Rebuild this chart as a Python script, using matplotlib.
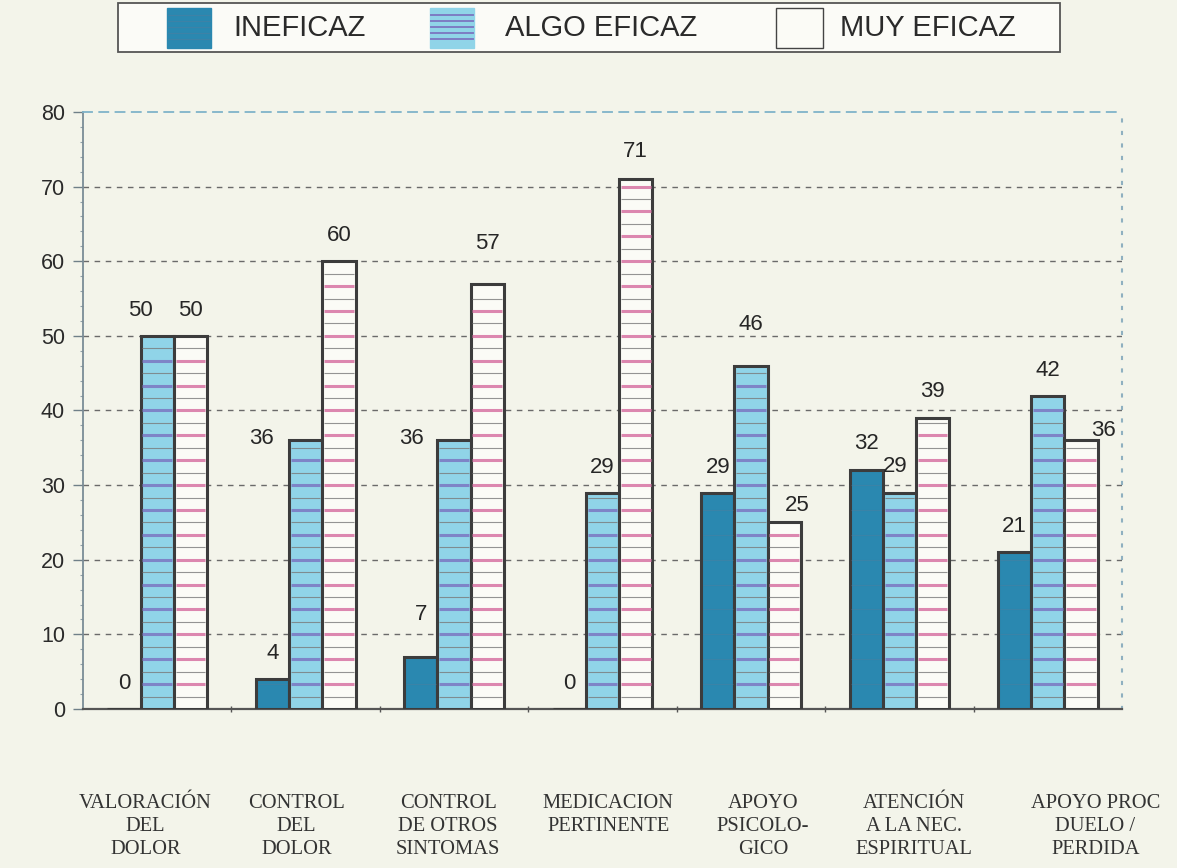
import matplotlib.pyplot as plt
import numpy as np
from matplotlib import transforms
from matplotlib.patches import Rectangle

# datos del grafico
categories = ['VALORACIÓN\nDEL\nDOLOR', 'CONTROL\nDEL\nDOLOR', 'CONTROL\nDE OTROS\nSINTOMAS',
              'MEDICACION\nPERTINENTE', 'APOYO\nPSICOLO-\nGICO', 'ATENCIÓN\nA LA NEC.\nESPIRITUAL',
              'APOYO PROC\nDUELO /\nPERDIDA']
ineficaz = [0, 4, 7, 0, 29, 32, 21]
algo_eficaz = [50, 36, 36, 29, 46, 29, 42]
muy_eficaz = [50, 60, 57, 71, 25, 39, 36]
series_names = ['INEFICAZ', 'ALGO EFICAZ', 'MUY EFICAZ']
yticks = [0, 10, 20, 30, 40, 50, 60, 70, 80]

# posicion de las etiquetas de valor (desplazamiento respecto a la barra)
label_dx = [[0, 0, 0, 0, 0, 0, 0],
            [-0.11, -0.30, -0.29, 0, 0, -0.03, 0],
            [0, 0, 0, 0, 0.09, 0, 0.15]]
label_dy = [[3.4, 3.5, 5.6, 3.4, 3.3, 3.6, 3.4],
            [3.4, 0.2, 0.2, 3.3, 5.5, 3.5, 3.4],
            [3.4, 3.4, 5.4, 3.7, 2.2, 3.6, 1.3]]
cat_dx = [-0.08, -0.06, -0.04, 0.04, 0.08, 0.10, 0.32]

bg_color = '#f3f4ea'
fill_colors = ['#2a88b0', '#90d4e8', '#fbfbf6']
stripe_colors = ['#4a7fa0', '#7d7cc4', '#d97aa8']
edge_color = '#3c3c3c'
sans = ['Liberation Sans Narrow', 'Liberation Sans', 'DejaVu Sans']

fig = plt.figure(figsize=(11.77, 8.68), dpi=100, facecolor=bg_color)

ax = fig.add_axes([0.0705, 0.1832, 0.8828, 0.6878], zorder=1)
ax.set_facecolor('none')

x = np.arange(len(categories))
width = 0.224
series = [ineficaz, algo_eficaz, muy_eficaz]
offsets = [-width, 0, width]
levels = np.arange(10 / 3, 80, 10 / 3)

for s, vals in enumerate(series):
    xs = x + offsets[s]
    ax.bar(xs, vals, width, color=fill_colors[s], edgecolor=edge_color, linewidth=2.2,
           zorder=3, label=series_names[s])
    # rayas horizontales del relleno
    for xi, v in zip(xs, vals):
        x0, x1 = xi - width / 2 + 0.012, xi + width / 2 - 0.012
        lv = levels[levels < v - 0.6]
        mid = levels - 5 / 3
        mid = mid[mid < v - 0.6]
        if s == 0:
            ax.hlines(lv, x0, x1, color=stripe_colors[s], lw=0.8, alpha=0.5, zorder=4)
            continue
        if len(lv):
            ax.hlines(lv, x0, x1, color=stripe_colors[s], lw=2.2, alpha=0.9, zorder=4)
        if len(mid):
            ax.hlines(mid, x0, x1, color='#7a7a7a', lw=0.8, alpha=0.8, zorder=4)
    for i, (xi, v) in enumerate(zip(xs, vals)):
        ax.text(xi + label_dx[s][i], v + label_dy[s][i], str(v), ha='center', va='center',
                fontsize=16, color='#262626', family=['Liberation Sans', 'DejaVu Sans'], zorder=5)

ax.set_xlim(-0.5, len(categories) - 0.5)
ax.set_ylim(0, 80)
ax.set_yticks(yticks)
ax.set_yticklabels([str(t) for t in yticks], fontsize=15.5, color='#2a2a2a',
                   family=['Liberation Sans', 'DejaVu Sans'])
ax.set_yticks(np.arange(0, 81, 2), minor=True)
ax.tick_params(axis='y', which='major', length=7, width=1, color='#6f7f88', pad=6)
ax.tick_params(axis='y', which='minor', length=2, width=0.8, color='#8fa0a8')

ax.set_xticks([])
ax.set_xticks(np.arange(0.5, len(categories) - 0.5, 1), minor=True)
ax.tick_params(axis='x', which='minor', length=5, width=1, color='#555555', direction='inout')

for t in yticks[1:-1]:
    ax.axhline(t, color='#6a6a6a', lw=1, dashes=(4, 4), zorder=1)

ax.spines['top'].set_color('#7fb3c9')
ax.spines['top'].set_linestyle((0, (5, 4)))
ax.spines['top'].set_linewidth(1.3)
ax.spines['right'].set_color('#8fb0c0')
ax.spines['right'].set_linestyle((0, (1, 5)))
ax.spines['right'].set_linewidth(1.5)
ax.spines['left'].set_color('#7a8c96')
ax.spines['left'].set_linewidth(1.3)
ax.spines['bottom'].set_color('#555555')
ax.spines['bottom'].set_linewidth(1.6)

trans = transforms.blended_transform_factory(ax.transData, ax.transAxes)
for i, cat in enumerate(categories):
    ax.text(i + cat_dx[i], -0.142, cat, transform=trans, ha='center', va='top',
            fontsize=14.8, color='#333333', family=['Liberation Serif', 'DejaVu Serif'],
            linespacing=1.3, multialignment='center')

# leyenda dibujada a mano en coordenadas de pixel
lg = fig.add_axes([0, 0, 1, 1], zorder=2)
lg.set_xlim(0, 1177)
lg.set_ylim(868, 0)
lg.axis('off')
lg.add_patch(Rectangle((118, 3), 942, 49, facecolor='#fbfbf7', edgecolor='#555555', lw=1.3))
swatch_x = [167, 430, 776]
text_x = [233, 505, 840]
for s in range(3):
    lg.add_patch(Rectangle((swatch_x[s], 8), 44 if s < 2 else 47, 40, facecolor=fill_colors[s],
                           edgecolor='#444444' if s == 2 else fill_colors[s], lw=1))
    if s < 2:
        for yy in [15, 21, 27, 33, 39]:
            lg.plot([swatch_x[s] + 1, swatch_x[s] + 43], [yy, yy], color=stripe_colors[s],
                    lw=1.4 if s == 1 else 0.8, alpha=1 if s == 1 else 0.6)
    lg.text(text_x[s], 28, series_names[s], fontsize=21, color='#2a2a2a', family=sans,
            va='center', ha='left')

fig.savefig('out.png', dpi=100, facecolor=bg_color)
